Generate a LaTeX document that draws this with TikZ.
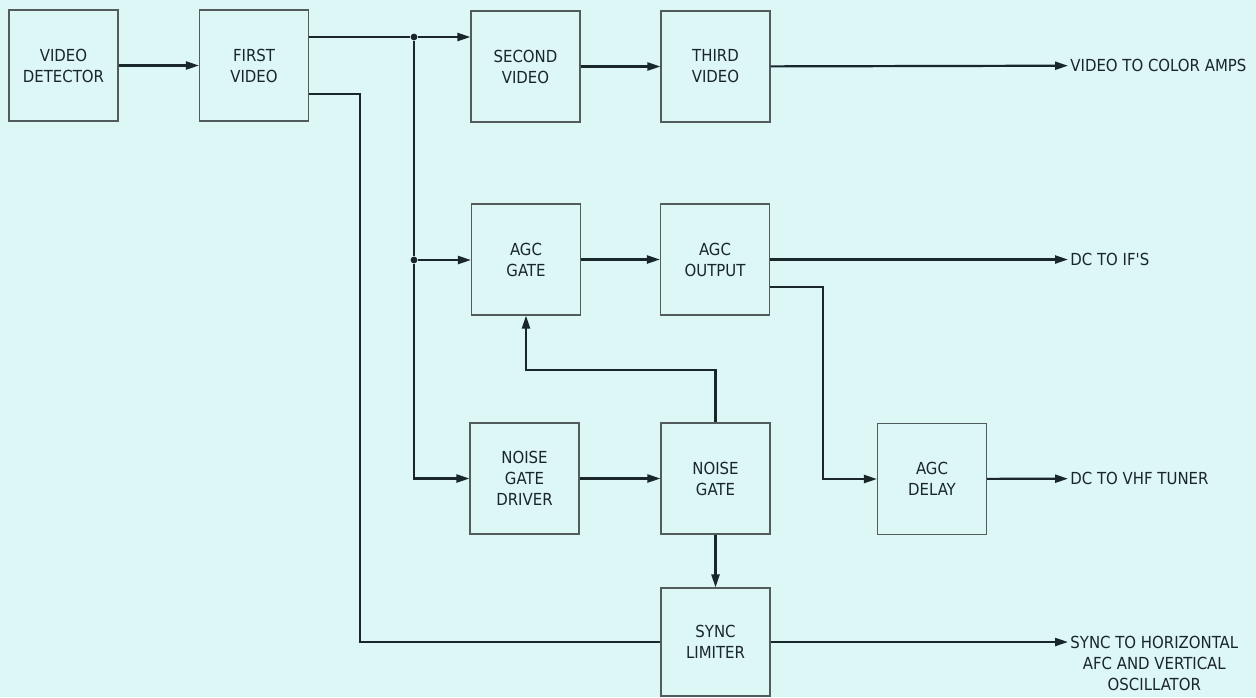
\documentclass[tikz,border=0pt]{standalone}
\usepackage{fontspec}
\setmainfont{DejaVu Sans Condensed}
\usetikzlibrary{arrows.meta}
\definecolor{paper}{RGB}{221,246,246}
\definecolor{ink}{RGB}{25,38,42}
\tikzset{
 blk/.style={draw=ink!75,line width=0.55pt,minimum width=54.5pt,minimum height=55.5pt,inner sep=0pt,align=center,
  font=\fontsize{8.3}{10.5}\selectfont,text=ink},
 wire/.style={draw=ink,line width=1.1pt},
 arr/.style={wire,-{Triangle[length=6.5pt,width=4pt]}},
 lbl/.style={font=\fontsize{8.3}{10.5}\selectfont,text=ink,inner sep=1pt,align=center},
 jdot/.style={circle,fill=ink,inner sep=0pt,minimum size=3.4pt}}
\begin{document}
\begin{tikzpicture}[x=0.5pt,y=-0.5pt]
\fill[paper] (0,0) rectangle (1256,697); \useasboundingbox (0,0) rectangle (1256,697);
% blocks
\node[blk] (det) at (63.5,65.5) {VIDEO\\DETECTOR};
\node[blk] (fv) at (254,65.5) {FIRST\\VIDEO};
\node[blk] (sv) at (525.5,66.5) {SECOND\\VIDEO};
\node[blk] (tv) at (715.5,66.5) {THIRD\\VIDEO};
\node[blk] (ag) at (526,259.5) {AGC\\GATE};
\node[blk] (ao) at (715,259.5) {AGC\\OUTPUT};
\node[blk] (ngd) at (524.5,478.5) {NOISE\\GATE\\DRIVER};
\node[blk] (ng) at (715.5,478.5) {NOISE\\GATE};
\node[blk,minimum height=54pt] (sl) at (715.5,642) {SYNC\\LIMITER};
\node[blk] (ad) at (932,479) {AGC\\DELAY};
% outputs
\node[lbl,anchor=west] (o1) at (1068,65.5) {VIDEO TO COLOR AMPS};
\node[lbl,anchor=west] (o2) at (1068,259.5) {DC TO IF\textquotesingle S};
\node[lbl,anchor=west] (o3) at (1068,478.5) {DC TO VHF TUNER};
\node[lbl,anchor=north west] (o4) at (1068,634) {SYNC TO HORIZONTAL\\AFC AND VERTICAL\\OSCILLATOR};
% junctions and bends
\node[jdot] (j1) at (414,37) {}; \node[jdot] (j2) at (414,260) {};
\coordinate (c1) at (360,94); \coordinate (c2) at (823,287); \coordinate (c3) at (620,370);
% connectors
\draw[arr] (det) -- (fv);
\draw[wire] (fv.east |- j1) -- (j1); \draw[arr] (j1) -- (sv.west |- j1);
\draw[wire] (j1) -- (j2); \draw[arr] (j2) -- (ag.west |- j2); \draw[arr] (j2) |- (ngd.west);
\draw[wire] (fv.east |- c1) -- (c1) |- (sl.west);
\draw[arr] (sv) -- (tv); \draw[arr] (tv) -- (o1);
\draw[arr] (ag) -- (ao); \draw[arr] (ao) -- (o2);
\draw[arr] (ao.east |- c2) -- (c2) |- (ad.west); \draw[arr] (ad) -- (o3);
\draw[arr] (ngd) -- (ng); \draw[arr] (ng) -- (sl);
\draw[arr] (ng.north) |- (c3) -| (ag.south);
\draw[arr] (sl.east) -- (o4.west |- sl.east);
\end{tikzpicture}
\end{document}
